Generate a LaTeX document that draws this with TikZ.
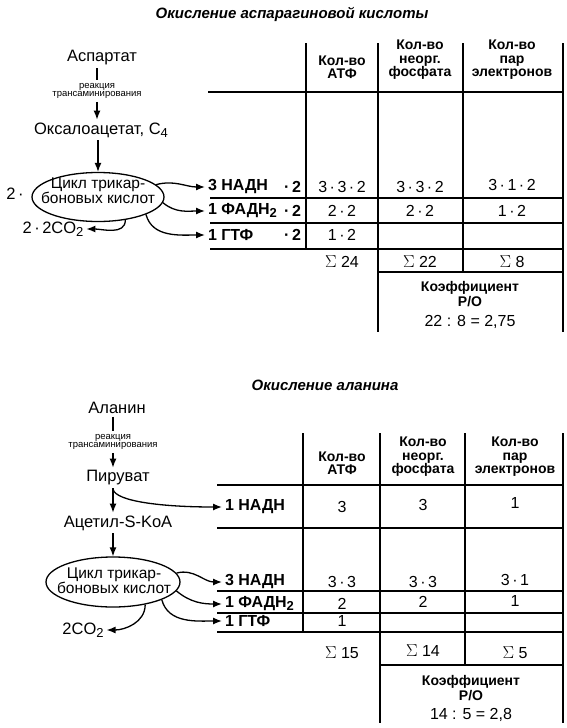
\documentclass[tikz,border=0pt]{standalone}
\usepackage{fontspec}
\setmainfont{Liberation Sans}
\usetikzlibrary{positioning, arrows.meta, shapes.geometric}

\newcommand{\lowidx}[1]{\raisebox{-3pt}{\fontsize{13}{13}\selectfont #1}}
\newcommand{\md}{\kern2.5pt·\kern2.5pt}

\tikzset{
  lbl/.style={font=\fontsize{16.5}{16.5}\selectfont, inner sep=0pt, outer sep=3pt},
  note/.style={font=\fontsize{9.5}{8.5}\selectfont, align=center, inner sep=0pt, outer sep=3pt},
  ttl/.style={font=\bfseries\itshape\fontsize{15}{15}\selectfont, inner sep=0pt},
  hdr/.style={font=\bfseries\fontsize{14}{13.5}\selectfont, align=center, inner sep=0pt},
  rowlbl/.style={font=\bfseries\fontsize{16}{16}\selectfont, anchor=west, inner sep=0pt, outer sep=3pt},
  val/.style={font=\fontsize{16}{16}\selectfont, inner sep=0pt},
  tcabox/.style={draw, ellipse, line width=1.3pt, inner sep=0pt},
  tcatext/.style={font=\fontsize{15.5}{15}\selectfont, align=center, inner sep=0pt},
  tab/.style={line width=1.1pt},
  arr/.style={-{Latex[length=9pt,width=7pt]}, line width=1.3pt},
}

\begin{document}
\begin{tikzpicture}[x=1pt,y=-1pt]
\useasboundingbox (0,0) rectangle (567,728);

% ---- aspartate ----
\node[ttl] (title1) at (292,14) {Окисление аспарагиновой кислоты};
\node[lbl] (asp) at (102,58) {Аспартат};
\node[note] (tr1) at (97,91) {реакция\\трансаминирования};
\node[lbl] (oxa) at (101,130) {Оксалоацетат, C\lowidx{4}};
\node[tcabox, minimum width=132pt, minimum height=49pt] (tca1) at (98,197) {};
\node[tcatext] (tcatxt1) at (98,191) {Цикл трикар-\\боновых кислот};
\node[lbl] (two1) at (15,194) {2\kern2.5pt·};
\node[lbl] (co2a) at (53,229) {2\md 2CO\lowidx{2}};

\draw[tab] (asp.south -| tr1.north) -- (tr1.north);
\draw[arr] (tr1.south) -- (tr1.south |- oxa.north);
\draw[arr] (tca1.north |- oxa.south) -- (tca1.north);

\node[rowlbl] (nadh1) at (205,187) {3 НАДН};
\node[rowlbl] (fad1) at (205,211) {1 ФАДН\lowidx{2}};
\node[rowlbl] (gtf1) at (205,235) {1 ГТФ};
\foreach \y [count=\i] in {187,211,235}
  \node[rowlbl, anchor=east] (m\i) at (304,\y) {·\,2};

\draw[arr] (tca1.12) to[out=15,in=180] (nadh1.west);
\draw[arr] (tca1.-5) to[out=-40,in=180] (fad1.west);
\draw[arr] (tca1.-20) to[out=-75,in=180] (gtf1.west);
\draw[arr] (tca1.-40) to[out=-90,in=0] (co2a.east);

% table
\draw[tab] (208,92) -- (563,92);
\foreach \y in {198,223,249}
  \draw[tab] (210,\y) -- (563,\y);
\draw[tab] (378,272) -- (563,272);
\draw[tab] (306,43) -- (306,249);
\draw[tab] (378,43) -- (378,332);
\draw[tab] (463,43) -- (463,272);
\draw[tab] (563,43) -- (563,332);

\node[hdr] (h1) at (342,67) {Кол-во\\АТФ};
\node[hdr] (h2) at (420,60) {Кол-во\\неорг.\\фосфата};
\node[hdr] (h3) at (512,60) {Кол-во\\пар\\электронов};

\node[val] (a11) at (342,187) {3\md 3\md 2};
\node[val] (a12) at (420,187) {3\md 3\md 2};
\node[val] (a13) at (512,185) {3\md 1\md 2};
\node[val] (a21) at (342,211) {2\md 2};
\node[val] (a22) at (420,211) {2\md 2};
\node[val] (a23) at (512,211) {1\md 2};
\node[val] (a31) at (342,235) {1\md 2};
\node[val] (sa1) at (342,262) {$\Sigma$ 24};
\node[val] (sa2) at (420,262) {$\Sigma$ 22};
\node[val] (sa3) at (512,262) {$\Sigma$ 8};
\node[hdr, font=\bfseries\fontsize{14}{14.5}\selectfont] (coef1) at (470,294) {Коэффициент\\P/O};
\node[val] (ratio1) at (470,322) {22 : 8 = 2,75};

% ---- alanine ----
\node[ttl] (title2) at (325,385) {Окисление аланина};
\node[lbl] (ala) at (117,408) {Аланин};
\node[note] (tr2) at (113,442) {реакция\\трансаминирования};
\node[lbl] (pyr) at (118,478) {Пируват};
\node[lbl] (acet) at (118,523) {Ацетил-S-KoA};
\node[tcabox, minimum width=134pt, minimum height=50pt] (tca2) at (113,582) {};
\node[tcatext] (tcatxt2) at (114,581) {Цикл трикар-\\боновых кислот};
\node[lbl] (co2b) at (83,630) {2CO\lowidx{2}};

\draw[tab] (ala.south -| tr2.north) -- (tr2.north);
\draw[arr] (tr2.south) -- (tr2.south |- pyr.north);
\draw[arr] (pyr.south -| tr2.south) -- (acet.north -| tr2.south);
\draw[arr] (tca2.north |- acet.south) -- (tca2.north);
\coordinate (fork) at ([yshift=-1pt]pyr.south -| tr2.south);

\node[rowlbl] (nadh0) at (222,507) {1 НАДН};
\node[rowlbl] (nadh2) at (222,582) {3 НАДН};
\node[rowlbl] (fad2) at (222,604) {1 ФАДН\lowidx{2}};
\node[rowlbl] (gtf2) at (222,621) {1 ГТФ};

\draw[arr] (fork) .. controls +(3,12) and +(-60,0) .. (nadh0.west);
\draw[arr] (tca2.8) to[out=15,in=180] (nadh2.west);
\draw[arr] (tca2.-8) to[out=-40,in=180] (fad2.west);
\draw[arr] (tca2.-20) to[out=-75,in=180] (gtf2.west);
\draw[arr] (tca2.-35) to[out=-90,in=0] (co2b.east);

% table
\draw[tab] (217,485) -- (563,485);
\foreach \y in {528,591,613,632}
  \draw[tab] (217,\y) -- (563,\y);
\draw[tab] (380,665) -- (563,665);
\draw[tab] (303,433) -- (303,632);
\draw[tab] (380,433) -- (380,723);
\draw[tab] (465,433) -- (465,665);
\draw[tab] (563,433) -- (563,723);

\node[hdr] (g1) at (342,463) {Кол-во\\АТФ};
\node[hdr] (g2) at (423,457) {Кол-во\\неорг.\\фосфата};
\node[hdr] (g3) at (515,457) {Кол-во\\пар\\электронов};

\node[val] (b01) at (342,507) {3};
\node[val] (b02) at (423,505) {3};
\node[val] (b03) at (515,503) {1};
\node[val] (b11) at (342,582) {3\md 3};
\node[val] (b12) at (423,582) {3\md 3};
\node[val] (b13) at (515,580) {3\md 1};
\node[val] (b21) at (342,604) {2};
\node[val] (b22) at (423,602) {2};
\node[val] (b23) at (515,601) {1};
\node[val] (b31) at (342,621) {1};
\node[val] (sb1) at (342,653) {$\Sigma$ 15};
\node[val] (sb2) at (423,651) {$\Sigma$ 14};
\node[val] (sb3) at (515,653) {$\Sigma$ 5};
\node[hdr, font=\bfseries\fontsize{14}{14.5}\selectfont] (coef2) at (471,688) {Коэффициент\\P/O};
\node[val] (ratio2) at (471,715) {14 : 5 = 2,8};
\end{tikzpicture}
\end{document}
